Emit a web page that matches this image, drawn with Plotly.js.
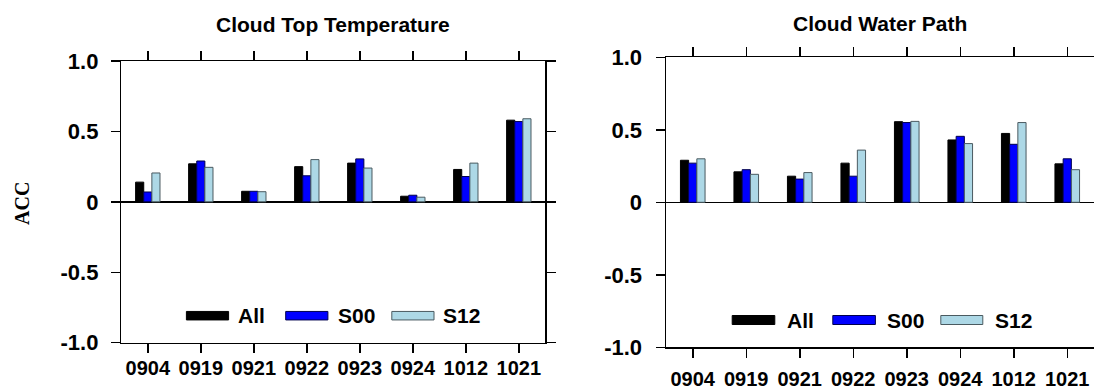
<!DOCTYPE html>
<html>
<head>
<meta charset="utf-8">
<script src="https://cdn.plot.ly/plotly-3.0.1.min.js"></script>
<style>html,body{margin:0;padding:0;background:#fff;}#chart{width:1094px;height:390px;}</style>
</head>
<body>
<div id="chart"></div>
<script>
// ---- data ----
const dates = ['0904','0919','0921','0922','0923','0924','1012','1021'];
const seriesNames = ['All','S00','S12'];
const panelTitles = ['Cloud Top Temperature','Cloud Water Path'];
const yTickVals = [-1, -0.5, 0, 0.5, 1];
const yTickText = ['-1.0','-0.5','0','0.5','1.0'];
const yLabel = 'ACC';
// Cloud Top Temperature
const cttAll = [0.14, 0.27, 0.075, 0.25, 0.275, 0.04, 0.23, 0.58];
const cttS00 = [0.07, 0.29, 0.075, 0.185, 0.305, 0.047, 0.18, 0.57];
const cttS12 = [0.205, 0.245, 0.072, 0.30, 0.24, 0.033, 0.275, 0.59];
// Cloud Water Path
const cwpAll = [0.29, 0.21, 0.18, 0.27, 0.556, 0.43, 0.475, 0.265];
const cwpS00 = [0.27, 0.225, 0.16, 0.18, 0.55, 0.455, 0.40, 0.30];
const cwpS12 = [0.30, 0.193, 0.205, 0.36, 0.558, 0.405, 0.55, 0.225];

// ---- styles ----
const W = 1094, H = 390;
const fills = ['#000000', '#0000ff', '#add8e6'];
const edges = ['#000000', '#00004d', '#4a5a60'];
const FONT = 'Liberation Sans, Arial, Helvetica, sans-serif';

const panels = [
  {vals: [cttAll, cttS00, cttS12], xa: 'x', ya: 'y'},
  {vals: [cwpAll, cwpS00, cwpS12], xa: 'x2', ya: 'y2'}
];

const traces = [];
panels.forEach(p => {
  p.vals.forEach((v, i) => {
    traces.push({
      type: 'bar', x: dates, y: v, name: seriesNames[i],
      xaxis: p.xa, yaxis: p.ya, showlegend: false,
      marker: {color: fills[i], line: {color: edges[i], width: 1}},
      hoverinfo: 'x+y+name'
    });
  });
});

function px(x){ return x / W; }
function py(y){ return 1 - y / H; }

function xaxis(domain, anchor, standoff){
  return {
    domain: domain, anchor: anchor, type: 'category', range: [-0.5, 7.5],
    showline: true, linecolor: '#000', linewidth: 1.5, mirror: 'ticks',
    ticks: 'outside', ticklen: 9, tickwidth: 1.5, tickcolor: '#000',
    showgrid: false, zeroline: false, ticklabelstandoff: standoff,
    tickfont: {family: FONT, size: 20, weight: 'bold', color: '#000'}
  };
}
function yaxis(domain, anchor, standoff){
  return {
    domain: domain, anchor: anchor, range: [-1, 1],
    tickmode: 'array', tickvals: yTickVals, ticktext: yTickText,
    showline: true, linecolor: '#000', linewidth: 1.5, mirror: 'ticks',
    ticks: 'outside', ticklen: 9, tickwidth: 1.5, tickcolor: '#000',
    showgrid: false, zeroline: true, zerolinecolor: '#000', zerolinewidth: 1.5,
    ticklabelstandoff: standoff,
    tickfont: {family: FONT, size: 22, weight: 'bold', color: '#000'}
  };
}

const annotations = [];
const shapes = [];
// titles
[[333.3, 25], [880, 23]].forEach((pos, k) => {
  annotations.push({
    xref: 'paper', yref: 'paper', x: px(pos[0]), y: py(pos[1]),
    xanchor: 'center', yanchor: 'middle', showarrow: false,
    text: panelTitles[k], font: {family: FONT, size: 21, weight: 'bold', color: '#000'}
  });
});
// y label
annotations.push({
  xref: 'paper', yref: 'paper', x: px(22), y: py(204), xanchor: 'center', yanchor: 'middle',
  showarrow: false, textangle: -90, text: yLabel,
  font: {family: 'Liberation Serif, Times New Roman, serif', size: 20, weight: 'bold', color: '#000'}
});
// legends (drawn as keys inside each panel)
const legendDefs = [
  {yc: 315.7, h: 8.5, rects: [[186.4, 228.6], [285.7, 327.9], [391.8, 434]], labels: [237.5, 337.5, 442.9]},
  {yc: 320, h: 9, rects: [[732.2, 774.8], [832.8, 875.4], [940.8, 982.8]], labels: [786.7, 887.3, 994.7]}
];
legendDefs.forEach(L => {
  L.rects.forEach((r, i) => {
    shapes.push({
      type: 'rect', xref: 'paper', yref: 'paper',
      x0: px(r[0]), x1: px(r[1]), y0: py(L.yc + L.h / 2), y1: py(L.yc - L.h / 2),
      fillcolor: fills[i], line: {color: edges[i], width: 1}
    });
    annotations.push({
      xref: 'paper', yref: 'paper', x: px(L.labels[i]), y: py(L.yc),
      xanchor: 'left', yanchor: 'middle', showarrow: false, xshift: -2,
      text: seriesNames[i], font: {family: FONT, size: 21, weight: 'bold', color: '#000'}
    });
  });
});

const layout = {
  width: W, height: H,
  margin: {l: 0, r: 0, t: 0, b: 0},
  paper_bgcolor: '#fff', plot_bgcolor: '#fff',
  barmode: 'group', bargap: 0.54, bargroupgap: 0,
  showlegend: false,
  xaxis: xaxis([px(121.3), px(545.3)], 'y', -2),
  yaxis: yaxis([py(342.7), py(61)], 'x', 8),
  xaxis2: xaxis([px(666), 1.0], 'y2', 4),
  yaxis2: yaxis([py(347.3), py(57.3)], 'x2', 9),
  annotations: annotations,
  shapes: shapes
};

Plotly.newPlot('chart', traces, layout, {displayModeBar: false, staticPlot: true});
</script>
</body>
</html>
